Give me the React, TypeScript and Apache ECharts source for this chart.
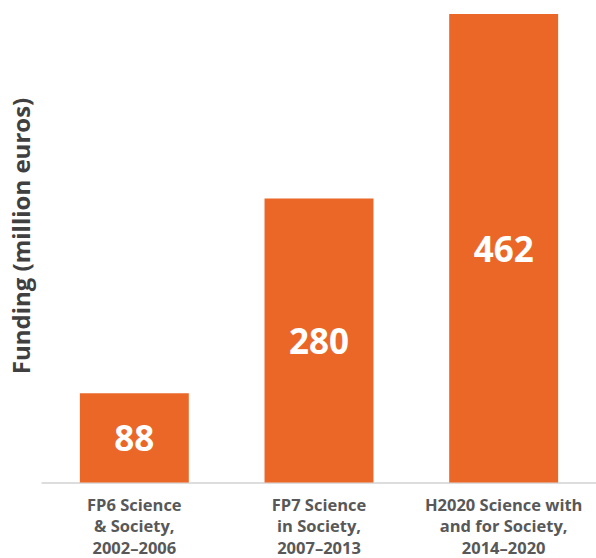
import React, { useEffect, useRef } from "react";
import * as echarts from "echarts";

const categories = [
  "FP6 Science\n& Society,\n2002–2006",
  "FP7 Science\nin Society,\n2007–2013",
  "H2020 Science with\nand for Society,\n2014–2020",
];
const funding = [88, 280, 462];
const yAxisTitle = "Funding (million euros)";

export default function App() {
  const ref = useRef<HTMLDivElement>(null);
  useEffect(() => {
    if (!ref.current) return;
    const chart = echarts.init(ref.current, null, { renderer: "svg" });
    chart.setOption({
      animation: false,
      grid: { left: 42, right: 0, top: 14, bottom: 72 },
      xAxis: {
        type: "category",
        data: categories,
        axisLine: { show: true, lineStyle: { color: "#d2d2d2", width: 1.5 } },
        axisTick: { show: false },
        axisLabel: {
          interval: 0,
          margin: 11,
          color: "#585858",
          fontFamily: "Open Sans",
          fontWeight: "bold",
          fontSize: 16.5,
          lineHeight: 21.5,
          align: "center",
        },
      },
      yAxis: {
        type: "value",
        min: 0,
        max: 462,
        show: false,
        splitLine: { show: false },
      },
      graphic: [
        {
          type: "text",
          x: 20,
          y: 236,
          rotation: Math.PI / 2,
          style: {
            text: yAxisTitle,
            fill: "#404040",
            font: "bold 24px 'Open Sans'",
            textAlign: "center",
            textVerticalAlign: "middle",
          },
        },
      ],
      series: [
        {
          type: "bar",
          data: funding,
          barWidth: "59%",
          itemStyle: { color: "#EB6727" },
          label: {
            show: true,
            position: "inside",
            color: "#ffffff",
            fontFamily: "Open Sans",
            fontWeight: "bold",
            fontSize: 35,
          },
        },
      ],
    });
    return () => chart.dispose();
  }, []);
  return (
    <div
      ref={ref}
      style={{ position: "absolute", left: 0, top: 0, width: 596, height: 558 }}
    />
  );
}
